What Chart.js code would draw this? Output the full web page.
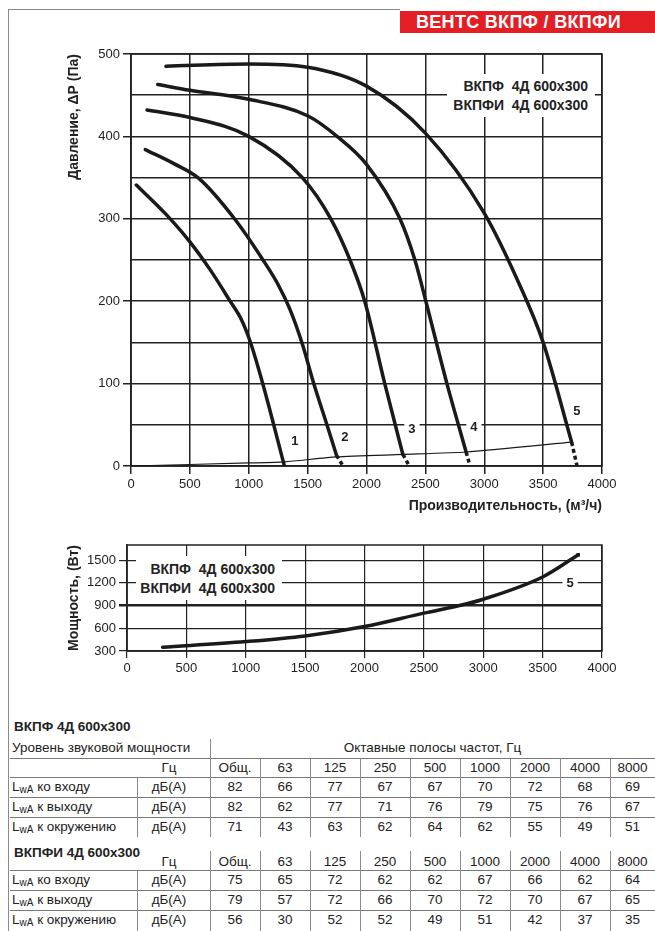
<!DOCTYPE html>
<html lang="ru">
<head>
<meta charset="UTF-8">
<title>ВЕНТС ВКПФ / ВКПФИ 4Д 600x300</title>
<script src="https://cdn.jsdelivr.net/npm/chart.js@4.4.1/dist/chart.umd.min.js"></script>
<style>
  body { margin: 0; background: #fff; }
  #page { position: relative; width: 655px; height: 931px; overflow: hidden;
          font-family: "Liberation Sans", Arial, sans-serif; color: #222; }
  .abs { position: absolute; }
  #frameTop { left: 8px; top: 9px; width: 392px; border-top: 1.5px solid #8a8a8a; }
  #frameLeft { left: 8px; top: 9px; height: 922px; border-left: 1.5px solid #8a8a8a; }
  #banner { left: 400px; top: 11px; width: 255px; height: 22px; background: #e31e24; color: #fff;
            font: bold 18px "Liberation Sans", Arial, sans-serif; line-height: 22px; letter-spacing: 0.3px;
            padding-left: 16px; box-sizing: border-box; white-space: pre; }
  .model { background: #fff; font: bold 14px "Liberation Sans", Arial, sans-serif; text-align: right;
           white-space: pre; line-height: 19px; color: #222; box-sizing: border-box; }
  .cell { font-size: 13.5px; white-space: nowrap; }
  .cell sub { font-size: 10px; vertical-align: -2px; line-height: 0; }
  .bold { font-weight: bold; }
</style>
</head>
<body>
<div id="page">
  <div id="frameTop" class="abs"></div>
  <div id="frameLeft" class="abs"></div>
  <div id="banner" class="abs">ВЕНТС ВКПФ / ВКПФИ</div>

  <canvas id="pressure" class="abs" width="655" height="525" style="left:0;top:0"></canvas>
  <canvas id="power" class="abs" width="655" height="160" style="left:0;top:530px"></canvas>

  <div class="abs model" style="left:447px;top:74px;width:148px;height:43px;padding:3px 7px 0 0">ВКПФ  4Д 600x300
ВКПФИ  4Д 600x300</div>
  <div class="abs model" style="left:136px;top:556px;width:146px;height:44px;padding:4px 7px 0 0">ВКПФ  4Д 600x300
ВКПФИ  4Д 600x300</div>
</div>

<script>
// ---- pressure curves, [flow m3/h, pressure Pa] ----
const curve1 = [[45,341],[300,305],[500,272],[673,238],[842,200],[940,177],[1010,152],[1115,102],[1303,0]];
const curve2 = [[121,384],[364,367],[576,349],[879,300],[1121,250],[1250,220],[1350,190],[1455,148],[1552,100],[1664,50],[1745,13]];
const curve3 = [[136,432],[500,423],[1000,400],[1455,350],[1697,300],[1860,250],[1985,200],[2155,100],[2309,14]];
const curve4 = [[227,463],[500,456],[1000,445],[1500,425],[1750,400],[2000,366],[2284,300],[2411,250],[2504,200],[2683,100],[2846,17]];
const curve5 = [[297,485],[1000,488],[1500,484],[2000,461],[2500,404],[3000,307],[3300,220],[3500,150],[3742,29]];
// dotted tails down to zero pressure
const tail2 = [[1745,13],[1800,0]];
const tail3 = [[2309,14],[2364,0]];
const tail4 = [[2846,17],[2879,0]];
const tail5 = [[3742,29],[3788,0]];
// thin line through the curve end points
const systemLine = [[0,0],[1000,3.7],[1303,5],[1745,11],[2309,14],[2846,17],[3742,29]];

const curveNames = ['1','2','3','4','5'];
const curveNameFlow = [1392, 1817, 2386, 2912, 3787];
const curveNamePres = [30, 35, 44, 47, 66];

// ---- power, [flow m3/h, W] ----
const powerCurve = [[300,350],[1000,424],[1500,499],[2000,623],[2500,800],[2800,900],[3000,984],[3500,1278],[3800,1570]];
const powerTicks = [300, 600, 900, 1200, 1500];

// ---- sound table ----
const bands = ['Общ.','63','125','250','500','1000','2000','4000','8000'];
const rowNames = ['ко входу','к выходу','к окружению'];
const vkpfInlet   = [82,66,77,67,67,70,72,68,69];
const vkpfOutlet  = [82,62,77,71,76,79,75,76,67];
const vkpfAmbient = [71,43,63,62,64,62,55,49,51];
const vkpfiInlet   = [75,65,72,62,62,67,66,62,64];
const vkpfiOutlet  = [79,57,72,66,70,72,70,67,65];
const vkpfiAmbient = [56,30,52,52,49,51,42,37,35];

const ink = '#1a1a1a';
const gridInk = '#222';
const font = 'Liberation Sans';

const toPts = arr => arr.map(([x, y]) => ({x, y}));
function solid(arr, w) {
  return { data: toPts(arr), borderColor: ink, borderWidth: w || 3.5, pointRadius: 0,
           cubicInterpolationMode: 'monotone', fill: false, borderCapStyle: 'round' };
}
function dotted(arr) {
  return { data: toPts(arr), borderColor: ink, borderWidth: 3.5, pointRadius: 0,
           tension: 0, borderDash: [4, 3], fill: false };
}

const frameBox = {
  id: 'frameBox',
  beforeDatasetsDraw(chart) {
    const {ctx, chartArea: a} = chart;
    ctx.save();
    ctx.strokeStyle = gridInk;
    ctx.lineWidth = 1.5;
    ctx.strokeRect(a.left, a.top, a.right - a.left, a.bottom - a.top);
    ctx.restore();
  }
};

const curveNumbers = {
  id: 'curveNumbers',
  afterDatasetsDraw(chart, args, opts) {
    if (!opts.text) return;
    const {ctx, scales: {x, y}} = chart;
    ctx.save();
    ctx.font = 'bold 13px "' + font + '"';
    ctx.textAlign = 'center';
    ctx.textBaseline = 'middle';
    opts.text.forEach((t, i) => {
      const px = x.getPixelForValue(opts.xs[i]);
      const py = y.getPixelForValue(opts.ys[i]);
      const w = ctx.measureText(t).width + 8;
      ctx.fillStyle = '#fff';
      ctx.fillRect(px - w / 2, py - 8, w, 16);
      ctx.fillStyle = gridInk;
      ctx.fillText(t, px, py);
    });
    ctx.restore();
  }
};

const tickFont = {family: font, size: 13};
const titleFont = {family: font, size: 14, weight: 'bold'};
const plain = v => String(v);

new Chart(document.getElementById('pressure'), {
  type: 'line',
  data: {
    datasets: [
      solid(curve1), solid(curve2), solid(curve3), solid(curve4), solid(curve5),
      dotted(tail2), dotted(tail3), dotted(tail4), dotted(tail5),
      Object.assign(solid(systemLine, 1.2), {cubicInterpolationMode: 'default', tension: 0.2})
    ]
  },
  options: {
    responsive: false,
    animation: false,
    layout: {padding: {left: 62, right: 53, top: 54, bottom: 6}},
    plugins: {
      legend: {display: false},
      tooltip: {enabled: false},
      curveNumbers: {text: curveNames, xs: curveNameFlow, ys: curveNamePres}
    },
    scales: {
      x: {
        type: 'linear', min: 0, max: 4000,
        ticks: {stepSize: 500, color: gridInk, font: tickFont, padding: 3, maxRotation: 0, autoSkip: false,
                callback: plain},
        grid: {color: gridInk, lineWidth: 1.5, tickLength: 8, tickColor: gridInk},
        border: {color: gridInk, width: 1.5},
        title: {display: true, text: 'Производительность, (м³/ч)', align: 'end', color: gridInk,
                font: titleFont, padding: {top: 4, bottom: 4}},
        afterFit(s) { s.height = 53; }
      },
      y: {
        type: 'linear', min: 0, max: 500,
        ticks: {stepSize: 50, color: gridInk, font: tickFont, padding: 3, autoSkip: false,
                callback: v => (v % 100 === 0 ? String(v) : '')},
        grid: {color: gridInk, lineWidth: 1.5, tickLength: 8,
               tickColor: c => (c.tick && c.tick.value % 100 ? 'rgba(0,0,0,0)' : gridInk)},
        border: {color: gridInk, width: 1.5},
        title: {display: true, text: 'Давление, ΔP (Па)', align: 'end', color: gridInk,
                font: titleFont, padding: {top: 4, bottom: 4}},
        afterFit(s) { s.width = 69; }
      }
    }
  },
  plugins: [frameBox, curveNumbers]
});

const powerSet = solid(powerCurve, 3.5);
powerSet.pointRadius = c => (c.dataIndex === powerCurve.length - 1 ? 2.5 : 0);
powerSet.pointStyle = 'rect';
powerSet.pointBackgroundColor = ink;
powerSet.pointBorderWidth = 0;

new Chart(document.getElementById('power'), {
  type: 'line',
  data: {datasets: [powerSet]},
  options: {
    responsive: false,
    animation: false,
    layout: {padding: {left: 62, right: 53, top: 15, bottom: 9}},
    plugins: {
      legend: {display: false},
      tooltip: {enabled: false},
      curveNumbers: {text: ['5'], xs: [3731], ys: [1195]}
    },
    scales: {
      x: {
        type: 'linear', min: 0, max: 4000,
        ticks: {stepSize: 500, color: gridInk, font: tickFont, padding: 3, maxRotation: 0, autoSkip: false,
                callback: plain},
        grid: {color: gridInk, lineWidth: 1.2, tickLength: 7, tickColor: gridInk},
        border: {color: gridInk, width: 1.5},
        afterFit(s) { s.height = 30; }
      },
      y: {
        type: 'linear', min: 300, max: 1700,
        afterBuildTicks(s) { s.ticks = powerTicks.map(v => ({value: v})); },
        ticks: {color: gridInk, font: tickFont, padding: 3, autoSkip: false, callback: plain},
        grid: {color: gridInk, tickLength: 8, tickColor: gridInk,
               lineWidth: c => (c.tick && c.tick.value === 900 ? 2.5 : 1.2)},
        border: {color: gridInk, width: 1.5},
        title: {display: true, text: 'Мощность, (Вт)', color: gridInk,
                font: titleFont, padding: {top: 4, bottom: 4}},
        afterFit(s) { s.width = 65; }
      }
    }
  },
  plugins: [frameBox, curveNumbers]
});

// ---- sound power table (plain HTML) ----
const page = document.getElementById('page');
function addDiv(cls, style, html) {
  const d = document.createElement('div');
  d.className = 'abs ' + cls;
  Object.assign(d.style, style);
  if (html != null) d.innerHTML = html;
  page.appendChild(d);
  return d;
}
function hline(y) { addDiv('', {left: '10px', top: y + 'px', width: '645px', borderTop: '1px solid #777'}); }
function vline(x, y0, y1) { addDiv('', {left: x + 'px', top: y0 + 'px', height: (y1 - y0) + 'px', borderLeft: '1px solid #8a8a8a'}); }
function cell(t, left, width, cy, align, cls) {
  addDiv('cell ' + (cls || ''), {left: left + 'px', top: (cy - 10) + 'px', width: width + 'px',
         height: '20px', lineHeight: '20px', textAlign: align || 'center'}, t);
}
const bandLeft = [210, 260, 310, 360, 410, 460, 510, 560, 610];
const bandSep = [260, 310, 360, 410, 460, 510, 560, 610];

function bandRow(values, cy) {
  values.forEach((v, i) => cell(String(v), bandLeft[i], i === 8 ? 45 : 50, cy));
}
function dataRows(rows, cys) {
  rows.forEach((r, i) => {
    cell('L<sub>wA</sub> ' + rowNames[i], 12, 125, cys[i], 'left');
    cell('дБ(А)', 137, 64, cys[i]);
    bandRow(r, cys[i]);
  });
}

// ВКПФ
cell('ВКПФ 4Д 600x300', 14, 190, 727, 'left', 'bold');
cell('Уровень звуковой мощности', 12, 195, 748, 'left');
cell('Октавные полосы частот, Гц', 210, 445, 748);
hline(758);
cell('Гц', 137, 64, 768);
bandRow(bands, 768);
hline(777);
dataRows([vkpfInlet, vkpfOutlet, vkpfAmbient], [787, 807, 827]);
hline(797); hline(817);
vline(210, 739, 837);
bandSep.forEach(x => vline(x, 758, 837));
vline(137, 777, 837);

// ВКПФИ
cell('ВКПФИ 4Д 600x300', 14, 190, 853, 'left', 'bold');
cell('Гц', 137, 64, 862);
bandRow(bands, 862);
hline(870);
dataRows([vkpfiInlet, vkpfiOutlet, vkpfiAmbient], [880, 900, 920]);
hline(890); hline(910);
vline(210, 851, 931);
bandSep.forEach(x => vline(x, 851, 931));
vline(137, 870, 931);
</script>
</body>
</html>
